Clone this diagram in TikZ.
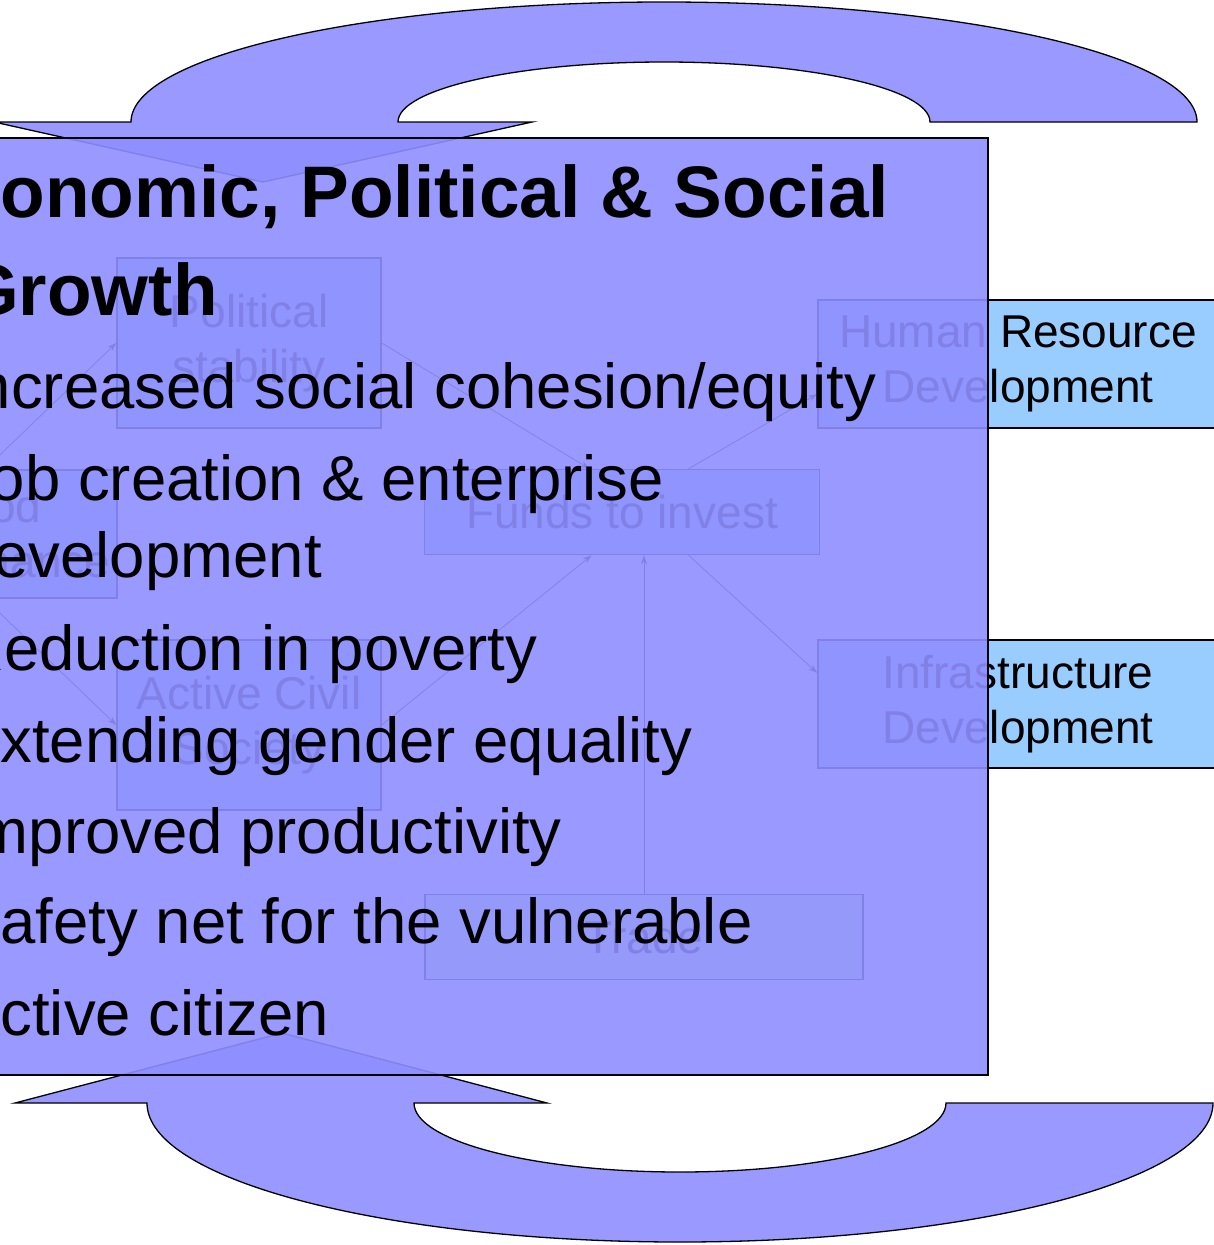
\documentclass[tikz,border=0pt]{standalone}
\usepackage{fontspec}
\setmainfont{Liberation Sans}
\usetikzlibrary{arrows.meta,calc}

\definecolor{slideblue}{HTML}{9999FF}
\definecolor{veilblue}{HTML}{8E8EFF}
\definecolor{boxblue}{HTML}{99CCFF}
\definecolor{tradegreen}{HTML}{CCFFCC}
\newcommand{\boxfont}{\fontsize{46}{55}\selectfont}
\newcommand{\itemfont}{\fontsize{63.5}{75}\selectfont}
\newcommand{\headfont}{\fontsize{73}{90}\selectfont\bfseries}

\begin{document}
\begin{tikzpicture}[x=1pt, y=-1pt,
		cyclearrow/.style={fill=slideblue, draw=black, line width=1.3pt},
		factor/.style={draw=black, line width=1.5pt, fill=boxblue, inner sep=0pt, font=\boxfont, align=center},
		link/.style={-{Stealth[length=9pt,width=6pt]}, line width=0.7pt},
		point/.style={anchor=base west, inner sep=0pt, font=\itemfont}]
			\useasboundingbox (0,0) rectangle (1213,1245);

			% Cycle arrows
			\filldraw[cyclearrow] (1197,122) arc[start angle=0, end angle=-180, x radius=533, y radius=120]
				-- (-6,122) -- (263,182) -- (532,122) -- (398,122)
				arc[start angle=-180, end angle=0, x radius=266, y radius=60] -- cycle;
			\filldraw[cyclearrow] (15,1103) -- (282,1033) -- (547,1103) -- (414,1103)
				arc[start angle=180, end angle=0, x radius=266, y radius=69] -- (1213,1103)
				arc[start angle=0, end angle=180, x radius=533, y radius=139] -- cycle;

			% Factors
			\node[factor, minimum width=264pt, minimum height=128pt] (good) at (-15,534) {Good\\Governance};
			\node[factor, minimum width=264pt, minimum height=170pt] (political) at (249,343) {Political\\stability};
			\node[factor, minimum width=264pt, minimum height=170pt] (active) at (249,725) {Active Civil\\Society};
			\node[factor, minimum width=395pt, minimum height=85pt] (funds) at (622,512) {Funds to invest};
			\node[factor, fill=tradegreen, minimum width=438pt, minimum height=85pt] (trade) at (644,937) {Trade};
			\node[factor, minimum width=400pt, minimum height=128pt] (human) at (1018,364) {Human Resource\\Development};
			\node[factor, minimum width=400pt, minimum height=128pt] (infra) at (1018,704) {Infrastructure\\Development};

			% Links
			\draw[link] (good.north) -- (political.west);
			\draw[link] (good.south) -- (active.west);
			\draw[link] (political.east) -- (funds.127);
			\draw[link] (active.east) -- (funds.-125);
			\draw[link] (trade.north) -- (trade.north |- funds.south);
			\draw[link] (funds.33) -- ($(human.west)+(0,30)$);
			\draw[link] (funds.-33) -- ($(infra.west)+(0,-31)$);

			% Slide
			\filldraw[fill=veilblue, fill opacity=0.9, draw=black, line width=1.5pt] (-30,138) rectangle (988,1075);

			% Growth
			\node[point, font=\headfont] (head1) at (-89,217) {Economic, Political \& Social};
			\node[point, font=\headfont] (head2) at (-38,315) {Growth};
			\foreach \y/\txt [count=\i] in {408/{Increased social cohesion/equity}, 500/{Job creation \& enterprise}, 577/development, 670/Reduction in poverty, 762/Extending gender equality, 853/Improved productivity, 943/Safety net for the vulnerable, 1035/Active citizen}	{
				\node[point] (item\i) at (-42,\y) {\txt};
			}
		\end{tikzpicture}
\end{document}
